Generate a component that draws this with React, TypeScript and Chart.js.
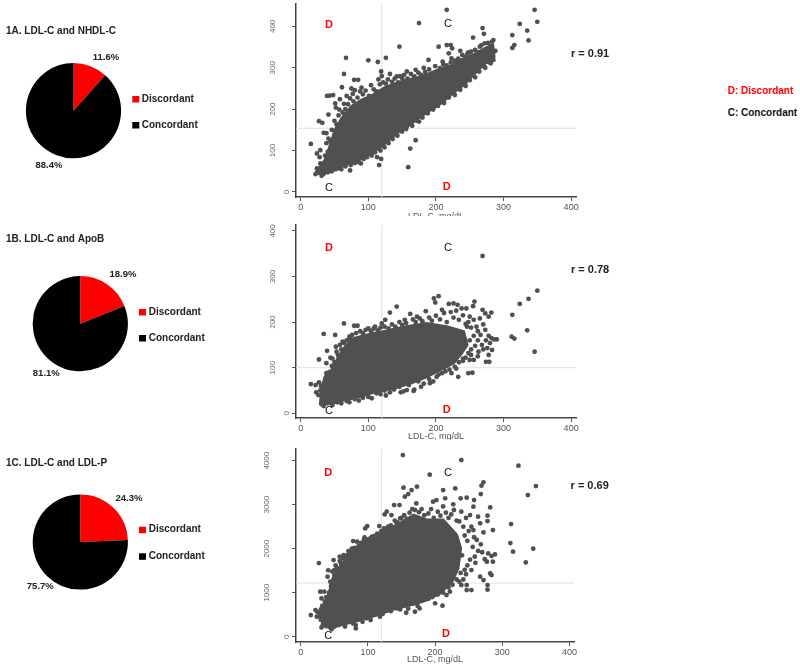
import React, { useEffect, useRef } from "react";
import { Chart, registerables } from "chart.js";

Chart.register(...registerables);

const FONT = '"Liberation Sans", Arial, sans-serif';
const DARK = "#505050";
const RULE = "#cbe9e9";

// ---------- data ----------
const pieLabels = ["Discordant", "Concordant"];
const pieValuesA = [11.6, 88.4];
const pieValuesB = [18.9, 81.1];
const pieValuesC = [24.3, 75.7];

const xTicks = [0, 100, 200, 300, 400];
const yTicksA = [0, 100, 200, 300, 400];
const yTicksB = [0, 100, 200, 300, 400];
const yTicksC = [0, 1000, 2000, 3000, 4000];

const ldlCut = 120;
const nhdlCut = 154;
const apobCut = 100;
const ldlpCut = 1220;

const rValueA = "r = 0.91";
const rValueB = "r = 0.78";
const rValueC = "r = 0.69";

// outline of the solid mass of overlapping points
const cloudA = [[21,43],[36,77],[43,109],[51,150],[61,178],[75,206],[90,222],[107,234],[125,253],[152,268],[176,277],[201,293],[221,303],[238,320],[255,331],[275,349],[284,355],[286,327],[270,307],[255,283],[243,262],[226,240],[206,213],[186,192],[162,164],[140,140],[122,114],[103,92],[83,76],[58,61],[38,45]];
const cloudB = [[29,18],[31,51],[36,80],[48,99],[56,124],[66,146],[78,164],[98,172],[122,179],[152,189],[186,197],[216,190],[241,179],[246,150],[238,132],[226,110],[206,95],[186,80],[162,66],[137,55],[112,48],[88,37],[63,29],[43,20]];
const cloudC = [[29,341],[28,530],[41,909],[48,1326],[66,1742],[78,1932],[98,2197],[123,2386],[148,2576],[168,2765],[187,2652],[212,2652],[232,2311],[238,2008],[234,1553],[225,1250],[207,985],[187,833],[163,720],[138,629],[113,492],[88,379],[63,280],[41,189]];

// individually visible points
const pointsA = [[15,116],[24,93],[29,101],[27,171],[32,167],[34,143],[38,142],[41,187],[39,232],[43,233],[48,234],[51,214],[52,204],[58,224],[61,253],[64,285],[67,324],[75,250],[80,246],[79,271],[85,271],[90,252],[100,318],[114,314],[126,324],[119,291],[120,280],[132,285],[142,279],[147,280],[146,351],[157,291],[170,295],[182,300],[189,319],[175,408],[216,440],[204,351],[216,355],[222,355],[224,347],[219,335],[210,315],[223,323],[236,341],[248,337],[255,373],[269,396],[271,382],[265,351],[313,379],[324,406],[335,390],[346,440],[350,411],[337,366],[316,355],[313,348],[285,367],[283,363],[288,341],[285,319],[273,300],[281,311],[157,158],[175,170],[170,125],[162,105],[159,60],[113,84],[119,80],[116,65],[73,52],[89,69],[58,57],[24,57],[22,43],[29,69],[31,39]];
const pointsB = [[15,64],[22,62],[27,68],[23,46],[27,118],[34,174],[51,172],[39,137],[52,146],[44,122],[38,110],[64,197],[79,192],[84,192],[73,164],[62,157],[100,186],[110,190],[125,205],[132,221],[142,234],[120,197],[154,205],[162,218],[172,212],[185,224],[197,252],[204,257],[199,243],[209,227],[219,240],[226,241],[232,238],[238,230],[245,230],[257,245],[255,235],[269,345],[269,227],[273,219],[282,221],[278,212],[265,208],[250,212],[246,190],[260,190],[273,183],[286,162],[290,162],[280,154],[283,139],[278,128],[274,113],[279,113],[263,135],[250,117],[256,117],[248,88],[254,89],[233,80],[313,216],[324,240],[337,251],[350,269],[335,182],[346,135],[312,168],[316,164],[223,88],[209,88],[201,80],[191,66],[167,49],[157,51],[148,46],[126,39],[31,20],[36,22]];
const pointsC = [[15,492],[22,606],[24,455],[31,212],[27,1674],[29,1023],[35,1023],[31,871],[41,1508],[50,1515],[40,1364],[49,1742],[58,1818],[64,1856],[71,1947],[78,2174],[84,2159],[96,2462],[99,2515],[95,2258],[106,2273],[117,2515],[125,2780],[128,2841],[135,2765],[139,2992],[143,2576],[147,2992],[148,2689],[153,3386],[155,3182],[160,3242],[165,3333],[173,3409],[172,3030],[152,4129],[239,4015],[192,3682],[230,3371],[212,3333],[202,3106],[197,3068],[215,3144],[227,3008],[238,3144],[247,3159],[258,3106],[269,3432],[272,3508],[268,3242],[282,2939],[257,2955],[239,2841],[252,2765],[264,2727],[278,2750],[278,2629],[267,2576],[286,2424],[272,2371],[257,2424],[324,3886],[338,3220],[350,3424],[313,2561],[312,2129],[316,1932],[346,2000],[335,1689],[289,1871],[284,1833],[279,1894],[277,1705],[286,1705],[282,1439],[284,1402],[278,1174],[278,1068],[267,1364],[272,1288],[254,1515],[259,1818],[247,1174],[254,1061],[247,1061],[239,1174],[211,705],[200,758],[177,644],[170,568],[157,545],[143,644],[118,455],[82,189],[82,265],[46,167],[56,265],[222,1023],[217,947]];

// points crowding the edge of the mass
const fringeA = [[33,60],[36,88],[28,84],[40,97],[44,122],[47,126],[38,118],[41,129],[50,137],[46,150],[53,163],[50,172],[56,185],[60,170],[62,192],[57,199],[66,200],[64,213],[70,212],[73,226],[68,232],[78,219],[77,237],[84,228],[88,243],[92,236],[96,245],[101,232],[104,258],[108,248],[112,243],[117,260],[115,272],[122,265],[126,262],[129,272],[135,266],[139,274],[144,265],[150,275],[153,283],[158,274],[163,285],[168,279],[174,288],[178,283],[184,290],[190,296],[195,286],[199,304],[206,299],[211,308],[216,306],[222,313],[228,317],[233,322],[239,331],[244,327],[247,335],[252,339],[258,343],[262,338],[267,354],[272,359],[277,360],[281,352],[28,46],[34,44],[40,48],[46,50],[52,55],[60,55],[66,62],[74,65],[80,70],[86,72],[93,80],[98,84],[105,88],[110,96],[118,100],[124,108],[130,118],[136,128],[143,136],[150,146],[156,152],[165,160],[172,172],[180,180],[188,190],[196,199],[203,208],[212,215],[219,228],[228,234],[236,247],[244,256],[250,270],[258,277],[264,291],[272,302],[278,314],[283,322]];
const fringeB = [[30,60],[34,64],[29,50],[26,40],[38,88],[42,90],[46,104],[50,112],[47,120],[55,128],[53,135],[60,140],[58,150],[64,154],[68,160],[72,168],[76,172],[82,176],[88,180],[92,176],[96,183],[104,180],[108,186],[114,182],[118,188],[124,190],[130,186],[135,195],[140,190],[146,200],[150,194],[156,198],[166,206],[170,200],[176,208],[180,202],[190,210],[194,203],[200,214],[206,206],[212,220],[216,200],[222,222],[226,210],[230,225],[234,205],[240,215],[244,196],[248,200],[252,188],[256,205],[262,180],[266,172],[270,195],[274,160],[278,170],[262,160],[256,170],[250,160],[268,150],[258,148],[252,140],[262,125],[270,140],[276,143],[282,165],[248,132],[244,122],[240,115],[252,128],[34,16],[40,22],[47,18],[54,24],[60,22],[68,27],[72,24],[80,31],[86,28],[92,34],[100,36],[105,33],[112,44],[118,42],[124,50],[132,46],[138,52],[146,58],[152,48],[160,62],[168,52],[174,70],[182,65],[190,75],[196,70],[204,85],[214,92],[220,96],[228,102],[234,112],[240,120],[230,98],[212,100],[178,58]];
const fringeC = [[25,560],[32,700],[36,800],[30,620],[42,1000],[45,1150],[38,900],[44,1250],[50,1400],[47,1480],[54,1560],[52,1620],[60,1650],[58,1720],[66,1800],[62,1780],[70,1860],[74,1920],[80,2020],[76,2000],[86,2060],[90,2130],[94,2200],[100,2210],[104,2240],[110,2290],[114,2340],[120,2400],[124,2460],[130,2500],[134,2530],[138,2450],[140,2640],[144,2600],[150,2700],[154,2760],[158,2680],[162,2820],[166,2900],[170,2880],[176,2830],[180,2900],[184,2760],[190,2800],[194,2900],[198,2700],[204,2840],[208,2750],[212,2960],[216,2820],[220,2700],[224,2780],[228,2880],[232,2640],[236,2620],[242,2500],[246,2700],[250,2400],[254,2500],[258,2260],[262,2200],[268,2100],[248,2180],[244,2300],[256,2040],[264,1950],[270,1920],[274,1760],[260,1680],[252,1750],[248,1620],[244,1520],[240,1850],[33,280],[38,240],[44,300],[50,230],[55,330],[60,290],[66,230],[72,340],[78,300],[86,400],[92,340],[98,420],[104,380],[110,500],[116,540],[122,520],[128,600],[134,580],[140,700],[148,620],[154,720],[160,640],[168,760],[174,700],[180,820],[190,860],[196,900],[204,960],[212,1000],[220,1120],[226,1180],[232,1300],[238,1450],[242,1300],[246,1420],[236,1250]];

// ---------- layout ----------
const toXY = (rows: number[][]) => rows.map(([x, y]) => ({ x, y }));

const pieCells = [
  { top: 0, height: 220, values: pieValuesA, cx: 73.5, cy: 110.7, title: "1A. LDL-C and NHDL-C", titleX: 6, titleY: 31,
    near: [106, 57], far: [49, 165], sq: 132.3, text: 141.7, l1: 99, l2: 125 },
  { top: 220, height: 220, values: pieValuesB, cx: 80.3, cy: 103.7, title: "1B. LDL-C and ApoB", titleX: 6, titleY: 19.5,
    near: [123, 54.3], far: [46.3, 153.3], sq: 139, text: 148.7, l1: 92, l2: 118 },
  { top: 440, height: 220, values: pieValuesC, cx: 80.3, cy: 102, title: "1C. LDL-C and LDL-P", titleX: 6, titleY: 23.7,
    near: [129, 58.3], far: [40.3, 146.7], sq: 139, text: 148.7, l1: 89.7, l2: 116.3 },
];

const scatterCells = [
  { top: 0, height: 216, axisH: 19, padTop: 4, padRight: 44, xMin: -6.95, xMax: 407.2, yMin: -12.08, yMax: 454.1,
    cloud: cloudA, points: pointsA, fringe: fringeA, cutY: nhdlCut, yTicks: yTicksA, r: rValueA, titlePad: -6,
    tags: [["D", 42, 403], ["C", 218, 405], ["C", 42, 10], ["D", 216, 13]], rPos: [428, 333] },
  { top: 220, height: 220, axisH: 22, padTop: 5, padRight: 44, xMin: -6.95, xMax: 407.2, yMin: -10.3, yMax: 413,
    cloud: cloudB, points: pointsB, fringe: fringeB, cutY: apobCut, yTicks: yTicksB, r: rValueB, titlePad: -2,
    tags: [["D", 42, 363], ["C", 218, 363], ["C", 42, 5], ["D", 216, 7]], rPos: [428, 314] },
  { top: 445, height: 223, axisH: 26, padTop: 4, padRight: 46, xMin: -7, xMax: 406.7, yMin: -120, yMax: 4266,
    cloud: cloudC, points: pointsC, fringe: fringeC, cutY: ldlpCut, yTicks: yTicksC, r: rValueC, titlePad: 3,
    tags: [["D", 41, 3720], ["C", 219, 3720], ["C", 41, 23], ["D", 216, 60]], rPos: [430, 3432] },
];

function PieCell({ cell }: { cell: (typeof pieCells)[number] }) {
  const ref = useRef<HTMLCanvasElement>(null);
  useEffect(() => {
    const W = 245;
    const R = 47.6;
    const chart = new Chart(ref.current!, {
      type: "pie",
      data: { labels: pieLabels, datasets: [{ data: cell.values, backgroundColor: ["#ff0000", "#000000"], borderWidth: 0 }] },
      options: {
        animation: false,
        responsive: false,
        layout: { padding: { left: cell.cx - R, right: W - cell.cx - R, top: cell.cy - R, bottom: cell.height - cell.cy - R } },
        plugins: { legend: { display: false }, tooltip: { enabled: false } },
      },
      plugins: [{
        id: "pieText",
        afterDraw(c: any) {
          const ctx = c.ctx;
          ctx.save();
          ctx.textBaseline = "middle";
          ctx.fillStyle = "#222222";
          ctx.font = `bold 10px ${FONT}`;
          ctx.textAlign = "left";
          ctx.fillText(cell.title, cell.titleX, cell.titleY);
          ctx.fillText(pieLabels[0], cell.text, cell.l1);
          ctx.fillText(pieLabels[1], cell.text, cell.l2);
          ctx.font = `bold 9.5px ${FONT}`;
          ctx.textAlign = "center";
          ctx.fillText(`${cell.values[0]}%`, cell.near[0], cell.near[1]);
          ctx.fillText(`${cell.values[1]}%`, cell.far[0], cell.far[1]);
          ctx.fillStyle = "#ff0000";
          ctx.fillRect(cell.sq, cell.l1 - 3, 7, 6.5);
          ctx.fillStyle = "#000000";
          ctx.fillRect(cell.sq, cell.l2 - 3, 7, 6.5);
          ctx.restore();
        },
      }],
    } as any);
    return () => chart.destroy();
  }, [cell]);
  return <canvas ref={ref} width={245} height={cell.height} style={{ position: "absolute", left: 0, top: cell.top, display: "block" }} />;
}

function ScatterCell({ cell }: { cell: (typeof scatterCells)[number] }) {
  const ref = useRef<HTMLCanvasElement>(null);
  useEffect(() => {
    const chart = new Chart(ref.current!, {
      type: "scatter",
      data: {
        datasets: [
          { type: "line", data: [{ x: ldlCut, y: cell.yMin }, { x: ldlCut, y: cell.yMax }], borderColor: RULE, borderWidth: 1, pointRadius: 0, order: 5 },
          { type: "line", data: [{ x: cell.xMin, y: cell.cutY }, { x: cell.xMax, y: cell.cutY }], borderColor: RULE, borderWidth: 1, pointRadius: 0, order: 4 },
          { type: "line", data: toXY(cell.cloud), fill: "shape", tension: 0, backgroundColor: DARK, borderColor: DARK, borderWidth: 3, pointRadius: 0, order: 3 },
          { type: "scatter", data: toXY(cell.fringe), backgroundColor: DARK, borderWidth: 0, pointRadius: 2.4, order: 2 },
          { type: "scatter", data: toXY(cell.points), backgroundColor: DARK, borderWidth: 0, pointRadius: 2.4, order: 1 },
        ],
      },
      options: {
        animation: false,
        responsive: false,
        layout: { padding: { top: cell.padTop, right: cell.padRight, left: 0, bottom: 0 } },
        plugins: { legend: { display: false }, tooltip: { enabled: false } },
        scales: {
          x: {
            type: "linear",
            min: cell.xMin,
            max: cell.xMax,
            afterBuildTicks: (s: any) => { s.ticks = xTicks.map((value) => ({ value })); },
            afterFit: (s: any) => { s.height = cell.axisH; },
            border: { display: true, color: "#444444", width: 1.5 },
            grid: { drawOnChartArea: false, drawTicks: true, tickLength: 4, color: "#555555" },
            ticks: { font: { family: FONT, size: 9 }, color: "#555555", padding: 1, maxRotation: 0, autoSkip: false },
            title: { display: true, text: "LDL-C, mg/dL", font: { family: FONT, size: 9 }, color: "#555555", padding: { top: 0, bottom: cell.titlePad } },
          },
          y: {
            type: "linear",
            min: cell.yMin,
            max: cell.yMax,
            afterBuildTicks: (s: any) => { s.ticks = cell.yTicks.map((value) => ({ value })); },
            afterFit: (s: any) => { s.width = 51; },
            border: { display: true, color: "#444444", width: 1.5 },
            grid: { drawOnChartArea: false, drawTicks: true, tickLength: 4, color: "#555555" },
            ticks: { display: false },
          },
        },
      },
      plugins: [{
        id: "scatterText",
        afterDraw(c: any) {
          const ctx = c.ctx;
          const xs = c.scales.x;
          const ys = c.scales.y;
          ctx.save();
          ctx.textBaseline = "middle";
          ctx.textAlign = "center";
          // rotated y labels, further from the axis the longer they are
          ctx.font = `8px ${FONT}`;
          ctx.fillStyle = "#666666";
          for (const v of cell.yTicks) {
            const label = String(v);
            const w = ctx.measureText(label).width;
            ctx.save();
            ctx.translate(293 - 245 - 1.5 * w, ys.getPixelForValue(v));
            ctx.rotate(-Math.PI / 2);
            ctx.fillText(label, 0, 0);
            ctx.restore();
          }
          for (const [t, x, y] of cell.tags as [string, number, number][]) {
            ctx.fillStyle = t === "D" ? "#ff0000" : "#111111";
            ctx.font = t === "D" ? `bold 11px ${FONT}` : `11px ${FONT}`;
            ctx.fillText(t, xs.getPixelForValue(x), ys.getPixelForValue(y));
          }
          ctx.fillStyle = "#222222";
          ctx.font = `bold 11px ${FONT}`;
          ctx.fillText(cell.r, xs.getPixelForValue(cell.rPos[0]), ys.getPixelForValue(cell.rPos[1]));
          ctx.restore();
        },
      }],
    } as any);
    return () => chart.destroy();
  }, [cell]);
  return <canvas ref={ref} width={375} height={cell.height} style={{ position: "absolute", left: 245, top: cell.top, display: "block" }} />;
}

const keyStyle: React.CSSProperties = { position: "absolute", left: 727.7, font: `bold 10px ${FONT}`, lineHeight: "12px", whiteSpace: "nowrap" };

export default function App() {
  return (
    <div style={{ position: "absolute", left: 0, top: 0, width: 800, height: 668, background: "#ffffff", overflow: "hidden" }}>
      {pieCells.map((cell) => <PieCell key={cell.title} cell={cell} />)}
      {scatterCells.map((cell) => <ScatterCell key={cell.r} cell={cell} />)}
      <div style={{ ...keyStyle, top: 84.7, color: "#ff0000" }}>D: Discordant</div>
      <div style={{ ...keyStyle, top: 106.7, color: "#111111" }}>C: Concordant</div>
    </div>
  );
}
